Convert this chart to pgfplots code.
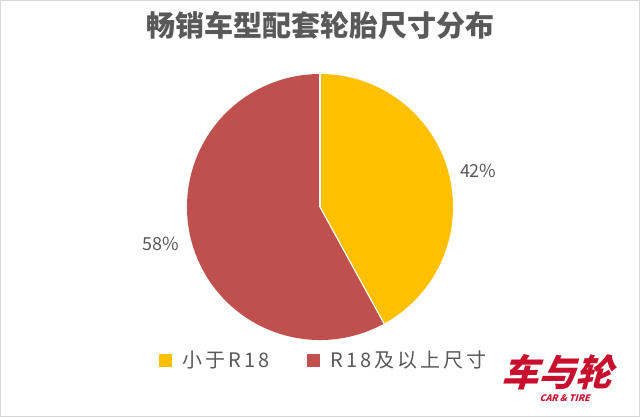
\documentclass[border=0pt]{standalone}
\usepackage{fontspec}
\setmainfont{Noto Sans CJK SC}
\newfontfamily\spaced[LetterSpace=15]{Noto Sans CJK SC}
\usepackage{pgfplots}
\pgfplotsset{compat=1.18}
\definecolor{pieyellow}{HTML}{FFC000}
\definecolor{piered}{HTML}{C0504D}
\definecolor{txtgray}{HTML}{595959}
\definecolor{logored}{HTML}{C8102E}
\begin{document}
\begin{tikzpicture}[x=1bp,y=1bp]
% canvas 640 x 417
\fill[white] (0,0) rectangle (640,417);
\draw[black!15, line width=1bp] (0.5,0.5) rectangle (639.5,416.5);

% shares (percent)
\def\small{42}
\def\large{58}
\pgfmathsetmacro{\split}{90-3.6*\small}

\begin{axis}[
    at={(320bp,210bp)}, anchor=center,
    scale only axis, width=266bp, height=266bp,
    xmin=-1, xmax=1, ymin=-1, ymax=1,
    hide axis, clip=false,
    legend columns=2,
    legend style={draw=none, fill=none, at={(axis cs:0.03,-1.15)}, anchor=center,
        font=\spaced\fontsize{20bp}{22bp}\selectfont\color{txtgray},
        /tikz/every odd column/.append style={column sep=9bp},
        /tikz/every even column/.append style={column sep=36bp}},
    legend image code/.code={\fill[#1] (0bp,-6bp) rectangle (12bp,6bp);},
]
\fill[pieyellow] (axis cs:0,0) -- ++(90:133bp) arc[start angle=90, end angle=\split, radius=133bp] -- cycle;
\fill[piered] (axis cs:0,0) -- ++(\split:133bp) arc[start angle=\split, end angle=-270, radius=133bp] -- cycle;
\draw[white, line width=1.2bp] (axis cs:0,0) -- ++(90:133bp);
\draw[white, line width=1.2bp] (axis cs:0,0) -- ++(\split:133bp);

\node[font=\fontsize{18bp}{20bp}\selectfont, text=txtgray] at (axis cs:1.19,0.27) {\small\%};
\node[font=\fontsize{18bp}{20bp}\selectfont, text=txtgray] at (axis cs:-1.2,-0.28) {\large\%};

\addlegendimage{pieyellow}
\addlegendentry{小于R18}
\addlegendimage{piered}
\addlegendentry{R18及以上尺寸}
\end{axis}

% title
\node[font=\fontsize{29bp}{32bp}\selectfont\bfseries, text=txtgray] at (320,392) {畅销车型配套轮胎尺寸分布};

% logo
\begin{scope}[xslant=0.3, transform shape]
\node[font=\fontsize{37bp}{39bp}\selectfont\bfseries, text=logored] at (548,45) {车与轮};
\node[font=\fontsize{9bp}{10bp}\selectfont\bfseries, text=logored] at (560,19) {CAR \& TIRE};
\end{scope}
\end{tikzpicture}
\end{document}
